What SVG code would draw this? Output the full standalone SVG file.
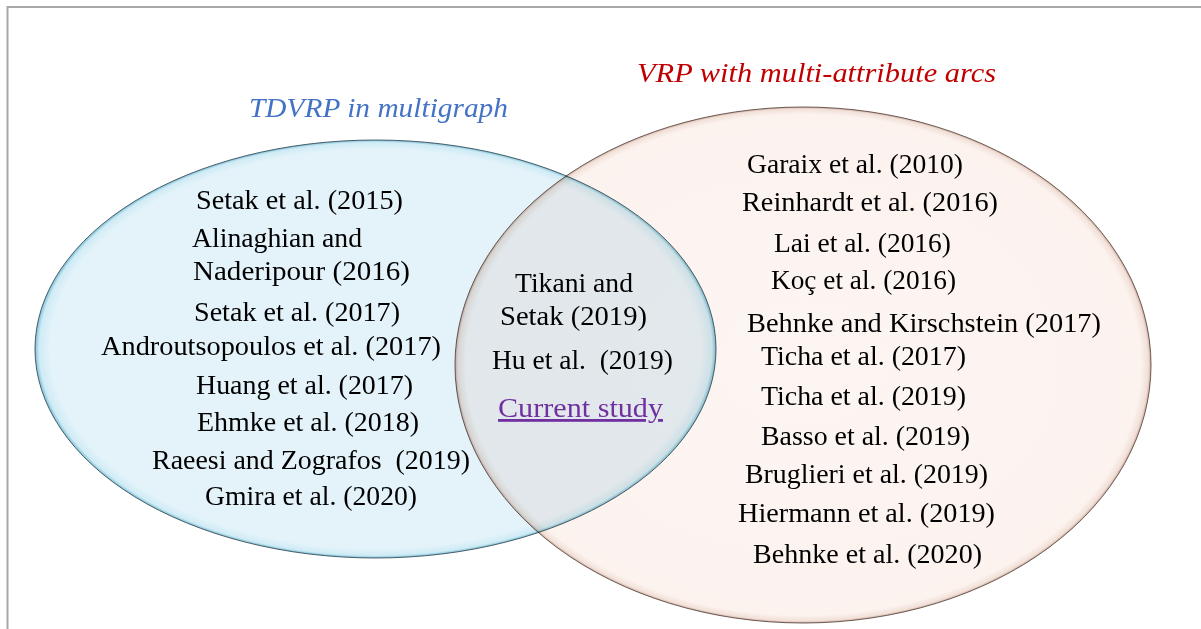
<svg xmlns="http://www.w3.org/2000/svg" width="1201" height="629" viewBox="0 0 1201 629">
<style>
.t{font-family:"Liberation Serif","Times New Roman",serif;font-size:28px;fill:#000}
.ti{font-family:"Liberation Serif","Times New Roman",serif;font-size:28px;font-style:italic}
</style>
<defs>
<radialGradient id="gBlue" cx="50%" cy="50%" r="50%">
<stop offset="0" stop-color="#e4f3fa"/>
<stop offset="0.955" stop-color="#e4f3fa"/>
<stop offset="0.988" stop-color="#cfebf5"/>
<stop offset="1" stop-color="#7cbfd6"/>
</radialGradient>
<radialGradient id="gPeach" cx="50%" cy="50%" r="50%">
<stop offset="0" stop-color="#fdf5f2"/>
<stop offset="0.97" stop-color="#fcf3ef"/>
<stop offset="0.992" stop-color="#f1e0d8"/>
<stop offset="1" stop-color="#cfae9f"/>
</radialGradient>
</defs>
<rect x="0" y="0" width="1201" height="629" fill="#ffffff"/>
<path d="M7.5 629 V7 H1201" fill="none" stroke="#a8a8a8" stroke-width="2"/>

<g id="set-tdvrp">
<ellipse cx="375.5" cy="349" rx="340.5" ry="209" fill="url(#gBlue)" stroke="#3a4f5a" stroke-width="0.9"/>
</g>
<g id="set-multiattr" style="mix-blend-mode:multiply">
<ellipse cx="803" cy="365" rx="348" ry="258" fill="url(#gPeach)" stroke="#5e4b45" stroke-width="0.9"/>
</g>

<g id="title-tdvrp"><text class="ti" x="249" y="117" fill="#4472c4" textLength="259" lengthAdjust="spacingAndGlyphs">TDVRP in multigraph</text></g>
<g id="title-multiattr"><text class="ti" x="637" y="82" fill="#c00000" textLength="359" lengthAdjust="spacingAndGlyphs">VRP with multi-attribute arcs</text></g>

<g id="left-list">
<text class="t" x="196" y="209" textLength="207" lengthAdjust="spacingAndGlyphs">Setak et al. (2015)</text>
<text class="t" x="192" y="247" textLength="170" lengthAdjust="spacingAndGlyphs">Alinaghian and</text>
<text class="t" x="193" y="280" textLength="217" lengthAdjust="spacingAndGlyphs">Naderipour (2016)</text>
<text class="t" x="194" y="321" textLength="206" lengthAdjust="spacingAndGlyphs">Setak et al. (2017)</text>
<text class="t" x="101" y="355" textLength="340" lengthAdjust="spacingAndGlyphs">Androutsopoulos et al. (2017)</text>
<text class="t" x="196" y="394" textLength="217" lengthAdjust="spacingAndGlyphs">Huang et al. (2017)</text>
<text class="t" x="197" y="431" textLength="222" lengthAdjust="spacingAndGlyphs">Ehmke et al. (2018)</text>
<text class="t" x="152" y="469" textLength="318" lengthAdjust="spacingAndGlyphs" xml:space="preserve">Raeesi and Zografos  (2019)</text>
<text class="t" x="205" y="505" textLength="212" lengthAdjust="spacingAndGlyphs">Gmira et al. (2020)</text>
</g>

<g id="middle-list">
<text class="t" x="515" y="292" textLength="118" lengthAdjust="spacingAndGlyphs">Tikani and</text>
<text class="t" x="500" y="325" textLength="147" lengthAdjust="spacingAndGlyphs">Setak (2019)</text>
<text class="t" x="492" y="369" textLength="181" lengthAdjust="spacingAndGlyphs" xml:space="preserve">Hu et al.  (2019)</text>
<text class="t" x="498" y="417" textLength="165" lengthAdjust="spacingAndGlyphs" style="fill:#7030a0;text-decoration:underline">Current study</text>
</g>

<g id="right-list">
<text class="t" x="747" y="173" textLength="216" lengthAdjust="spacingAndGlyphs">Garaix et al. (2010)</text>
<text class="t" x="742" y="211" textLength="256" lengthAdjust="spacingAndGlyphs">Reinhardt et al. (2016)</text>
<text class="t" x="774" y="252" textLength="177" lengthAdjust="spacingAndGlyphs">Lai et al. (2016)</text>
<text class="t" x="771" y="289" textLength="185" lengthAdjust="spacingAndGlyphs">Koç et al. (2016)</text>
<text class="t" x="747" y="332" textLength="354" lengthAdjust="spacingAndGlyphs">Behnke and Kirschstein (2017)</text>
<text class="t" x="761" y="365" textLength="205" lengthAdjust="spacingAndGlyphs">Ticha et al. (2017)</text>
<text class="t" x="761" y="405" textLength="205" lengthAdjust="spacingAndGlyphs">Ticha et al. (2019)</text>
<text class="t" x="761" y="445" textLength="209" lengthAdjust="spacingAndGlyphs">Basso et al. (2019)</text>
<text class="t" x="745" y="483" textLength="243" lengthAdjust="spacingAndGlyphs">Bruglieri et al. (2019)</text>
<text class="t" x="738" y="522" textLength="257" lengthAdjust="spacingAndGlyphs">Hiermann et al. (2019)</text>
<text class="t" x="753" y="563" textLength="229" lengthAdjust="spacingAndGlyphs">Behnke et al. (2020)</text>
</g>
</svg>
